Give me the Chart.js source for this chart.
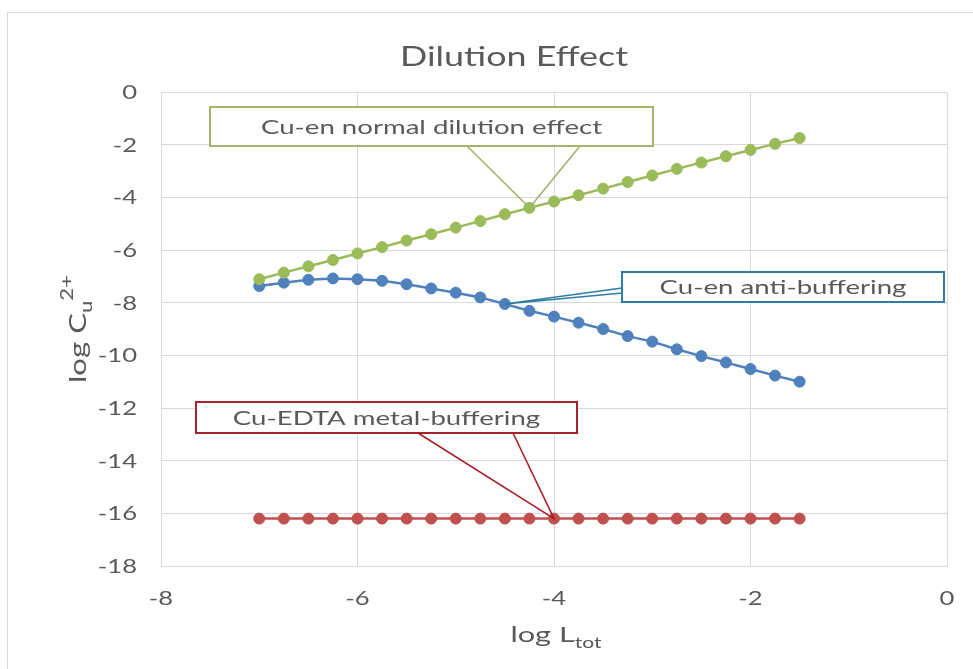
<!DOCTYPE html>
<html>
<head>
<meta charset="utf-8">
<style>
  html, body { margin: 0; padding: 0; background: #fff; }
  #wrap { position: relative; width: 973px; height: 669px; }
</style>
<script src="https://cdn.jsdelivr.net/npm/chart.js@4.4.1/dist/chart.umd.min.js"></script>
</head>
<body>
<div id="wrap"><canvas id="c" width="973" height="669"></canvas></div>
<script>
// log of total ligand concentration
const logLtot = [-7, -6.75, -6.5, -6.25, -6, -5.75, -5.5, -5.25, -5, -4.75, -4.5, -4.25,
                 -4, -3.75, -3.5, -3.25, -3, -2.75, -2.5, -2.25, -2, -1.75, -1.5];

// log of free Cu2+ concentration for each system
const cuEnDilution = [-7.11, -6.86, -6.62, -6.38, -6.13, -5.89, -5.64, -5.40, -5.15, -4.90, -4.64, -4.40,
                      -4.16, -3.92, -3.67, -3.42, -3.17, -2.92, -2.68, -2.44, -2.20, -1.97, -1.75];
const cuEnAntiBuffer = [-7.37, -7.24, -7.13, -7.08, -7.11, -7.17, -7.30, -7.46, -7.62, -7.80, -8.05, -8.31,
                        -8.53, -8.76, -9.00, -9.27, -9.48, -9.77, -10.03, -10.27, -10.52, -10.77, -11.00];
const cuEdtaBuffer = [-16.2, -16.2, -16.2, -16.2, -16.2, -16.2, -16.2, -16.2, -16.2, -16.2, -16.2, -16.2,
                      -16.2, -16.2, -16.2, -16.2, -16.2, -16.2, -16.2, -16.2, -16.2, -16.2, -16.2];

const xTicks = [-8, -6, -4, -2, 0];
const yTicks = [0, -2, -4, -6, -8, -10, -12, -14, -16, -18];

const seriesNames = ['Cu-en normal dilution effect', 'Cu-en anti-buffering', 'Cu-EDTA metal-buffering'];
const seriesColors = ['#9BBB59', '#4F81BD', '#C0504D'];
const calloutBorders = ['#A8B26A', '#2F7DA6', '#A8202A'];

const FONT = 'Lato, "Open Sans", "Noto Sans", sans-serif';
const TXT = '#595959';

function pts(ys) { return logLtot.map((x, i) => ({ x: x, y: ys[i] })); }

function ds(i, ys) {
  return {
    label: seriesNames[i],
    data: pts(ys),
    borderColor: seriesColors[i],
    backgroundColor: seriesColors[i],
    pointBackgroundColor: seriesColors[i],
    pointBorderColor: seriesColors[i],
    pointRadius: 5.5,
    pointBorderWidth: 1,
    borderWidth: 2.5,
    showLine: true,
    tension: 0
  };
}

// wide text: draws str with a horizontal stretch factor sx
function wideText(c, str, x, y, size, sx, align) {
  c.save();
  c.font = size + 'px ' + FONT;
  const w = c.measureText(str).width * sx;
  const left = align === 'center' ? x - w / 2 : align === 'right' ? x - w : x;
  c.translate(left, y);
  c.scale(sx, 1);
  c.textAlign = 'left';
  c.textBaseline = 'alphabetic';
  c.fillText(str, 0, 0);
  c.restore();
  return w;
}
function wideWidth(c, str, size, sx) {
  c.save();
  c.font = size + 'px ' + FONT;
  const w = c.measureText(str).width * sx;
  c.restore();
  return w;
}

// callouts: series/point they point at, box in canvas px, and the two leader attach points
const callouts = [
  { s: 0, idx: 11, box: [210, 107, 443, 39], legs: [[467, 146], [580, 146]] },
  { s: 1, idx: 10, box: [622, 272, 322, 30], legs: [[622, 288], [622, 293]] },
  { s: 2, idx: 12, box: [196, 402, 381, 31], legs: [[418, 433], [513, 433]] }
];

const decor = {
  id: 'decor',
  beforeDraw(chart) {
    const c = chart.ctx;
    c.save();
    c.fillStyle = '#fff';
    c.fillRect(0, 0, chart.width, chart.height);
    c.strokeStyle = '#D9D9D9';
    c.lineWidth = 1;
    c.strokeRect(7.5, 12.5, 1000, 700);
    c.restore();
  },
  afterDraw(chart) {
    const c = chart.ctx;
    const xs = chart.scales.x, ys = chart.scales.y;
    c.save();
    c.fillStyle = TXT;

    // title
    wideText(c, 'Dilution Effect', 514, 66, 27, 1.33, 'center');

    // tick labels
    yTicks.forEach(v => wideText(c, String(v).replace('-', '-'), 137, ys.getPixelForValue(v) + 7, 20, 1.28, 'right'));
    xTicks.forEach(v => wideText(c, String(v), xs.getPixelForValue(v), 605, 20, 1.28, 'center'));

    // x axis title: log L_tot
    const wA = wideWidth(c, 'log L', 22, 1.4);
    const wB = wideWidth(c, 'tot', 15, 1.4);
    const x0 = 556 - (wA + wB) / 2;
    wideText(c, 'log L', x0, 642, 22, 1.4, 'left');
    wideText(c, 'tot', x0 + wA, 648, 15, 1.4, 'left');

    // y axis title: log C_u^2+ (rotated)
    c.save();
    c.translate(86, 329);
    c.rotate(-Math.PI / 2);
    const s1 = wideWidth(c, 'log C', 24, 1.3);
    const s2 = wideWidth(c, 'u', 17, 1.3);
    const s3 = wideWidth(c, '2+', 17, 1.3);
    let sx0 = -(s1 + s2 + s3) / 2;
    wideText(c, 'log C', sx0, 0, 24, 1.3, 'left');
    wideText(c, 'u', sx0 + s1, 6, 17, 1.3, 'left');
    wideText(c, '2+', sx0 + s1 + s2, -13, 17, 1.3, 'left');
    c.restore();
    c.restore();

    // callouts
    const seriesData = [cuEnDilution, cuEnAntiBuffer, cuEdtaBuffer];
    c.save();
    callouts.forEach(co => {
      const px = xs.getPixelForValue(logLtot[co.idx]);
      const py = ys.getPixelForValue(seriesData[co.s][co.idx]);
      const [bx, by, bw, bh] = co.box;
      c.strokeStyle = calloutBorders[co.s];
      c.lineWidth = 1.6;
      c.beginPath();
      c.moveTo(co.legs[0][0], co.legs[0][1]);
      c.lineTo(px, py);
      c.lineTo(co.legs[1][0], co.legs[1][1]);
      c.stroke();
      c.fillStyle = '#fff';
      c.fillRect(bx, by, bw, bh);
      c.lineWidth = 2;
      c.strokeRect(bx, by, bw, bh);
      c.fillStyle = TXT;
      wideText(c, seriesNames[co.s], bx + bw / 2, by + bh / 2 + 7, 20, 1.38, 'center');
    });
    c.restore();
  }
};

new Chart(document.getElementById('c'), {
  type: 'scatter',
  data: { datasets: [ds(0, cuEnDilution), ds(1, cuEnAntiBuffer), ds(2, cuEdtaBuffer)] },
  options: {
    responsive: false,
    animation: false,
    devicePixelRatio: 1,
    layout: { padding: { left: 0, top: 92, right: 26, bottom: 0 } },
    plugins: { legend: { display: false }, title: { display: false }, tooltip: { enabled: false } },
    scales: {
      x: {
        type: 'linear',
        min: -8, max: 0,
        afterBuildTicks(s) { s.ticks = xTicks.map(v => ({ value: v })); },
        afterFit(s) { s.height = 103; },
        grid: { color: '#D9D9D9', lineWidth: 1, drawTicks: false },
        border: { display: true, color: '#D9D9D9' },
        ticks: { display: false }
      },
      y: {
        type: 'linear',
        min: -18, max: 0,
        afterBuildTicks(s) { s.ticks = yTicks.map(v => ({ value: v })); },
        afterFit(s) { s.width = 161; },
        grid: { color: '#D9D9D9', lineWidth: 1, drawTicks: false },
        border: { display: true, color: '#D9D9D9' },
        ticks: { display: false }
      }
    }
  },
  plugins: [decor]
});
</script>
</body>
</html>
